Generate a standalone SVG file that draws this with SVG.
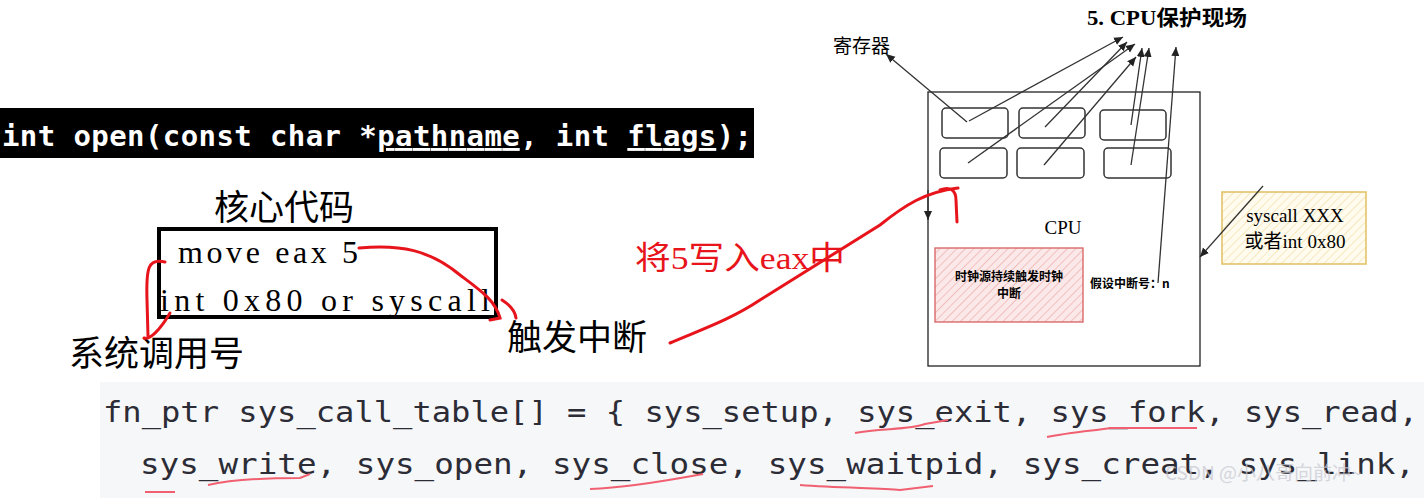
<svg xmlns="http://www.w3.org/2000/svg" width="1424" height="498" viewBox="0 0 1424 498">
<style>
.ser{font-family:"Liberation Serif","Noto Sans CJK SC",serif;fill:#000}
.cjk{font-family:"Noto Sans CJK SC",sans-serif}
.mono{font-family:"DejaVu Sans Mono",monospace}
.ln{stroke:#333;stroke-width:1.3;fill:none;marker-end:url(#ah)}
.red{stroke:#e8141c;stroke-width:3;fill:none;stroke-linecap:round}
.ul{stroke:#f06070;stroke-width:2;fill:none}
.reg{fill:#fff;stroke:#333;stroke-width:1.5}
</style>
<defs>
<marker id="ah" markerWidth="10" markerHeight="10" refX="9" refY="5" orient="auto" markerUnits="userSpaceOnUse"><path d="M0,1 L9,5 L0,9 z" fill="#222"/></marker>
<pattern id="hr" width="6" height="6" patternUnits="userSpaceOnUse" patternTransform="rotate(45)"><rect width="6" height="6" fill="#fbe9e9"/><line x1="0" y1="0" x2="0" y2="6" stroke="#f0b0b0" stroke-width="1.5"/></pattern>
<pattern id="hy" width="6" height="6" patternUnits="userSpaceOnUse" patternTransform="rotate(45)"><rect width="6" height="6" fill="#fffbee"/><line x1="0" y1="0" x2="0" y2="6" stroke="#f3e3b0" stroke-width="1.5"/></pattern>
</defs>
<rect width="1424" height="498" fill="#fff"/>
<g id="signature">
<rect x="0" y="108" width="754" height="50" fill="#000"/>
<text x="2" y="146" class="mono" font-size="29" font-weight="bold" fill="#fff" textLength="750" lengthAdjust="spacing">int open(const char *<tspan text-decoration="underline">pathname</tspan>, int <tspan text-decoration="underline">flags</tspan>);</text>
</g>
<g id="core">
<text x="284" y="220" class="ser" font-size="35" text-anchor="middle">核心代码</text>
<rect x="159" y="229" width="337" height="88" fill="none" stroke="#000" stroke-width="4"/>
<text x="178" y="263" class="ser" font-size="32" textLength="180" lengthAdjust="spacing">move  eax  5</text>
<text x="160" y="311" class="ser" font-size="32" textLength="330" lengthAdjust="spacing">int 0x80 or syscall</text>
<text x="69" y="366" class="ser" font-size="35">系统调用号</text>
<text x="507" y="350" class="ser" font-size="35">触发中断</text>
<text x="635" y="269" class="ser" font-size="32" style="fill:#e8141c" textLength="210" lengthAdjust="spacingAndGlyphs">将5写入eax中</text>
</g>
<g id="cpu">
<rect x="928" y="92" width="272" height="274" fill="#fff" stroke="#222" stroke-width="1.3"/>
<rect class="reg" x="942" y="108" width="66" height="30" rx="4"/>
<rect class="reg" x="1019" y="108" width="66" height="30" rx="4"/>
<rect class="reg" x="1100" y="110" width="66" height="30" rx="4"/>
<rect class="reg" x="940" y="148" width="67" height="30" rx="4"/>
<rect class="reg" x="1017" y="148" width="67" height="30" rx="4"/>
<rect class="reg" x="1104" y="148" width="67" height="30" rx="4"/>
<text x="1063" y="234" class="ser" font-size="19" text-anchor="middle">CPU</text>
<rect x="935" y="248" width="148" height="74" fill="url(#hr)" stroke="#d86060" stroke-width="1.3"/>
<text x="1009" y="281" class="cjk" font-size="12" font-weight="bold" text-anchor="middle">时钟源持续触发时钟</text>
<text x="1009" y="298" class="cjk" font-size="12" font-weight="bold" text-anchor="middle">中断</text>
<text x="1090" y="288" class="cjk" font-size="12" font-weight="bold">假设中断号：n</text>
</g>
<g id="labels">
<text x="1087" y="25" class="ser" font-size="21" font-weight="bold" textLength="160" lengthAdjust="spacingAndGlyphs">5. CPU保护现场</text>
<text x="833" y="53" class="cjk" font-size="19">寄存器</text>
</g>
<g id="syscall">
<rect x="1222" y="192" width="144" height="72" fill="url(#hy)" stroke="#e0c060" stroke-width="1.5"/>
<text x="1295" y="222" class="ser" font-size="19" text-anchor="middle">syscall XXX</text>
<text x="1295" y="248" class="ser" font-size="19" text-anchor="middle">或者int 0x80</text>
</g>
<g id="connectors">
<path class="ln" d="M967,122 L886,54"/>
<path class="ln" d="M969,121 L1123,37"/>
<path class="ln" d="M1045,127 L1127,42"/>
<path class="ln" d="M968,163 L1135,44"/>
<path class="ln" d="M1044,165 L1136,57"/>
<path class="ln" d="M1131,125 L1142,48"/>
<path class="ln" d="M1131,165 L1149,48"/>
<path class="ln" d="M1158,283 L1176,47"/>
<path class="ln" d="M1263,186 L1200,257"/>
<path class="ln" d="M928,190 L928,220"/>
<path class="red" d="M359,248 C400,244 430,250 460,275 C480,290 495,300 500,318 L490,320 M502,300 C510,305 515,310 516,318"/>
<path class="red" d="M165,262 C148,258 146,268 147,300 L148,336 M170,313 C160,330 150,340 144,338"/>
<path class="red" d="M670,343 C700,330 730,320 760,300 C800,275 840,250 880,225 C905,205 925,192 958,188 M940,190 C950,186 956,190 956,200 L957,222"/>
</g>
<g id="table">
<rect x="100" y="382" width="1324" height="116" fill="#f6f7f9"/>
<text x="103" y="422" class="mono" font-size="29" fill="#2c2c36" textLength="1315" lengthAdjust="spacingAndGlyphs">fn_ptr sys_call_table[] = { sys_setup, sys_exit, sys_fork, sys_read,</text>
<text x="140" y="474" class="mono" font-size="29" fill="#2c2c36" textLength="1275" lengthAdjust="spacingAndGlyphs">sys_write, sys_open, sys_close, sys_waitpid, sys_creat, sys_link,</text>
<path class="ul" d="M855,433 C880,428 910,430 925,424 L948,420"/>
<path class="ul" d="M1047,437 C1070,432 1100,430 1110,428 L1197,428"/>
<path class="ul" d="M208,485 C230,480 260,478 300,478 L310,474"/>
<path class="ul" d="M590,489 C620,488 660,482 703,474"/>
<path class="ul" d="M800,485 C840,488 880,488 900,490 L933,486"/>
<path class="ul" d="M145,492 L175,492"/>
<text x="1165" y="480" font-family="Noto Sans CJK SC,sans-serif" font-size="19" fill="#c8c8d0" opacity="0.7">CSDN @小八哥向前冲~</text>
</g>
</svg>
